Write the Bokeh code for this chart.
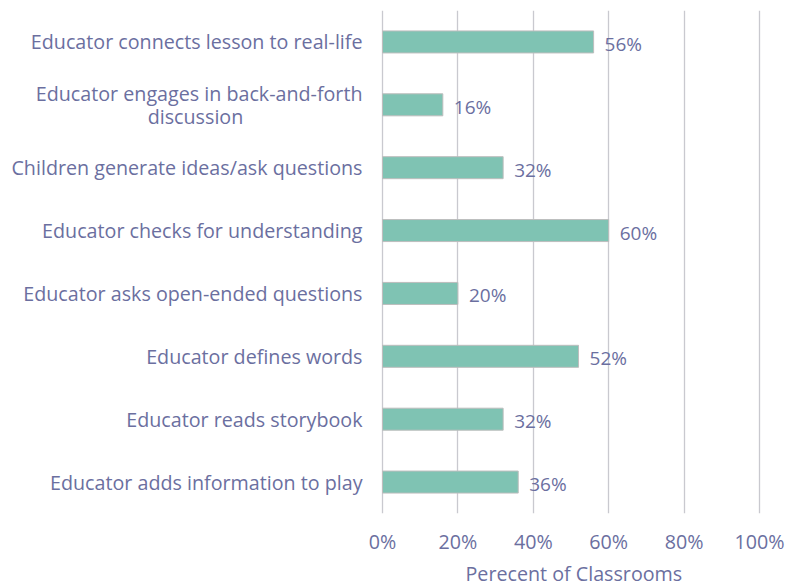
from bokeh.plotting import figure
from bokeh.models import ColumnDataSource, FixedTicker, PrintfTickFormatter, Range1d, Title
from bokeh.embed import file_html
from bokeh.resources import INLINE
from bokeh.core.properties import value

categories = [
    "Educator connects lesson to real-life",
    "Educator engages in back-and-forth discussion",
    "Children generate ideas/ask questions",
    "Educator checks for understanding",
    "Educator asks open-ended questions",
    "Educator defines words",
    "Educator reads storybook",
    "Educator adds information to play",
]
percents = [56, 16, 32, 60, 20, 52, 32, 36]
tick_values = [0, 20, 40, 60, 80, 100]
x_title = "Perecent of Classrooms"
wrapped_cat = "Educator engages in back-and-forth discussion"
wrapped_lines = ["Educator engages in back-and-forth", "discussion"]

TXT = "#6B6F9F"
FONT = "Open Sans"
FS = "19.7px"

n = len(categories)
ypos = [n - 1 - i for i in range(n)]  # first category at top
labels = [f"{v}%" for v in percents]
src = ColumnDataSource(dict(y=ypos, val=percents, lab=labels))

single = [(y, c) for y, c in zip(ypos, categories) if c != wrapped_cat]
cat_src = ColumnDataSource(dict(y=[s[0] for s in single], t=[s[1] for s in single]))
wy = ypos[categories.index(wrapped_cat)]

# frame spans the whole width; 0% sits 382px from the left, 100% at 759px
p = figure(
    y_range=Range1d(-0.5, n - 0.5),
    x_range=Range1d(-382 / 377 * 100, 100 + 44 / 377 * 100),
    width=803, height=586,
    output_backend="svg", toolbar_location=None,
    min_border_left=0, min_border_right=0, min_border_top=10,
    min_border_bottom=0,
)
p.outline_line_color = None
p.background_fill_color = "white"
p.yaxis.visible = False

p.hbar(y="y", right="val", left=0, height=0.35, source=src,
       fill_color="#7FC3B3", line_color="#BDBDBD", line_width=1)

p.text(x="val", y="y", text="lab", source=src, x_offset=11, y_offset=2,
       text_baseline="middle", text_align="left", text_color=TXT,
       text_font=value(FONT), text_font_size="19px")

# category labels
p.text(x=0, y="y", text="t", source=cat_src, x_offset=-20,
       text_baseline="middle", text_align="right", text_color=TXT,
       text_font=value(FONT), text_font_size=FS)
p.text(x=[0], y=[wy], text=[wrapped_lines[0]], x_offset=-20, y_offset=-11,
       text_baseline="middle", text_align="right", text_color=TXT,
       text_font=value(FONT), text_font_size=FS)
p.text(x=[0], y=[wy], text=[wrapped_lines[1]], x_offset=-187, y_offset=12,
       text_baseline="middle", text_align="center", text_color=TXT,
       text_font=value(FONT), text_font_size=FS)

p.xaxis.ticker = FixedTicker(ticks=tick_values, minor_ticks=[])
p.xaxis.formatter = PrintfTickFormatter(format="%d%%")
p.xgrid.ticker = FixedTicker(ticks=tick_values, minor_ticks=[])
p.xgrid.grid_line_color = "#C9C9CF"
p.xgrid.grid_line_width = 1.3
p.ygrid.grid_line_color = None

p.xaxis.axis_line_color = None
p.xaxis.major_tick_line_color = None
p.xaxis.minor_tick_line_color = None
p.xaxis.major_tick_out = 0
p.xaxis.major_tick_in = 0
p.xaxis.minor_tick_out = 0
p.xaxis.major_label_standoff = 14
p.xaxis.major_label_text_color = TXT
p.xaxis.major_label_text_font = FONT
p.xaxis.major_label_text_font_size = FS
p.xaxis.major_label_text_line_height = 1.0

p.add_layout(Title(text=x_title, align="left", offset=465, standoff=0,
                   text_color=TXT, text_font=FONT, text_font_size=FS,
                   text_font_style="normal", text_line_height=1.0), "below")

open("out.html", "w").write(file_html(p, INLINE))
